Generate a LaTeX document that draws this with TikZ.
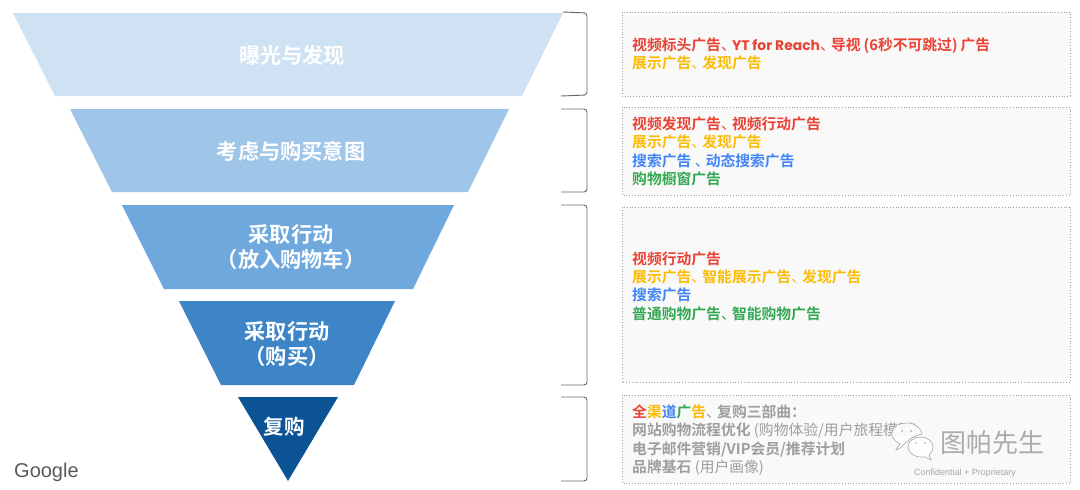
\documentclass[tikz,border=0pt]{standalone}
\usepackage{fontspec}
\setmainfont{Noto Sans CJK SC}[BoldFont={* Bold}]
\newfontfamily\latinb{Liberation Sans}
\newfontfamily\lat{Poppins}
\newcommand{\dun}{\makebox[11pt][l]{\mdseries 、}}
\newcommand{\lt}[1]{{\lat\bfseries\fontsize{13.9}{18}\selectfont #1}}
\definecolor{gred}{HTML}{EA4335}
\definecolor{gyel}{HTML}{FBBC05}
\definecolor{gblu}{HTML}{4285F4}
\definecolor{ggrn}{HTML}{34A853}
\definecolor{ggray}{HTML}{9E9E9E}
\definecolor{boxbg}{HTML}{F9F9F9}
\tikzset{
 funnel/.style={draw=none},
 title/.style={font=\fontsize{21.2}{25.5}\selectfont\bfseries,text=white,align=center,inner sep=0pt},
 brk/.style={draw=black!60,line width=0.9pt,rounded corners=3pt},
 adbox/.style={draw=gray!75,dotted,line width=0.8pt,fill=boxbg},
 adtext/.style={font=\fontsize{14.8}{18.3}\selectfont\bfseries,align=left,anchor=west,inner sep=0pt},
 bubble/.style={draw=gray!70,fill=white,fill opacity=0.88,line width=0.6pt},
}
\begin{document}
\begin{tikzpicture}[x=1pt,y=-1pt]
\useasboundingbox (0,0) rectangle (1080,490);
\fill[white] (0,0) rectangle (1080,490);
\fill[funnel,fill={rgb,255:red,207;green,226;blue,243}] (13,13)--(563,13)--(522,96)--(55,96)--cycle;
\fill[funnel,fill={rgb,255:red,159;green,197;blue,232}] (70,109)--(509,109)--(468,192)--(112,192)--cycle;
\fill[funnel,fill={rgb,255:red,111;green,168;blue,220}] (122,205)--(454,205)--(413,289)--(164,289)--cycle;
\fill[funnel,fill={rgb,255:red,61;green,133;blue,198}] (179,301)--(395,301)--(354,385)--(221,385)--cycle;
\fill[funnel,fill={rgb,255:red,11;green,83;blue,148}] (238,397)--(338,397)--(288,481)--cycle;
\node[title] (t1) at (292,55) {曝光与发现};
\node[title] (t2) at (291,151) {考虑与购买意图};
\node[title] (t3) at (291,247) {采取行动\\（放入购物车）};
\node[title] (t4) at (287,344) {采取行动\\（购买）};
\node[title,font=\fontsize{20.5}{24}\selectfont\bfseries] (t5) at (284,427) {复购};
\draw[brk] (563,12)--(587,13)--(587,95)--(561,96);
\draw[brk] (561,109)--(587,109)--(587,192)--(561,192);
\draw[brk] (561,205)--(587,205)--(587,385)--(561,385);
\draw[brk] (561,397)--(587,397)--(587,481)--(561,481);
\draw[adbox] (622,12) rectangle (1070,96);
\draw[adbox] (622,107) rectangle (1070,195);
\draw[adbox] (622,207) rectangle (1070,382);
\draw[adbox] (622,395) rectangle (1070,483);
\node[adtext] (a1) at (632,54) {\textcolor{gred}{视频标头广告\dun\lt{YT for Reach}\dun 导视\kern3pt(6秒不可跳过)\kern3pt广告}\\\textcolor{gyel}{展示广告\dun 发现广告}};
\node[adtext] (a2) at (632,151.5) {\textcolor{gred}{视频发现广告\dun 视频行动广告}\\\textcolor{gyel}{展示广告\dun 发现广告}\\\textcolor{gblu}{搜索广告 \dun 动态搜索广告}\\\textcolor{ggrn}{购物橱窗广告}};
\node[adtext] (a3) at (632,286) {\textcolor{gred}{视频行动广告}\\\textcolor{gyel}{展示广告\dun 智能展示广告\dun 发现广告}\\\textcolor{gblu}{搜索广告}\\\textcolor{ggrn}{普通购物广告\dun 智能购物广告}};
\node[adtext,text=ggray] (a4) at (632,440) {\textcolor{gred}{全}\textcolor{gyel}{渠}\textcolor{gblu}{道}\textcolor{ggrn}{广}\textcolor{gyel}{告}\dun 复购三部曲：\\网站购物流程优化 {\mdseries (购物体验/用户旅程模型)}\\电子邮件营销/VIP会员/推荐计划\\品牌基石 {\mdseries (用户画像)}};
\node[font=\latinb\fontsize{20}{20}\selectfont,text=black!65,anchor=west,inner sep=0pt] (g) at (14,472) {Google};
\node[font=\latinb\fontsize{9}{10}\selectfont,text=gray!70,anchor=west,inner sep=0pt] (c) at (914,473) {Confidential + Proprietary};
\node[font=\fontsize{26}{28}\selectfont,text=gray!65,anchor=west,inner sep=0pt] (w) at (940,443) {图帕先生};
\draw[bubble] (900,444) .. controls (893,440) and (891,436) .. (892,432) .. controls (893,426) and (900,423) .. (907,423) .. controls (915,423) and (921,428) .. (922,434) .. controls (918,435) and (911,437) .. (908,441) .. controls (904,443) and (901,449) .. (896,450) -- cycle;
\draw[bubble] (908,447) .. controls (908,441) and (914,437) .. (921,437) .. controls (928,437) and (933,442) .. (933,447) .. controls (933,451) and (930,454) .. (929,455) -- (931,460) -- (925,457) .. controls (915,458) and (908,453) .. (908,447) -- cycle;
\fill[gray!70] (902,431) circle (1) (911,431) circle (1) (916,443) circle (0.9) (925,443) circle (0.9);
\end{tikzpicture}
\end{document}
